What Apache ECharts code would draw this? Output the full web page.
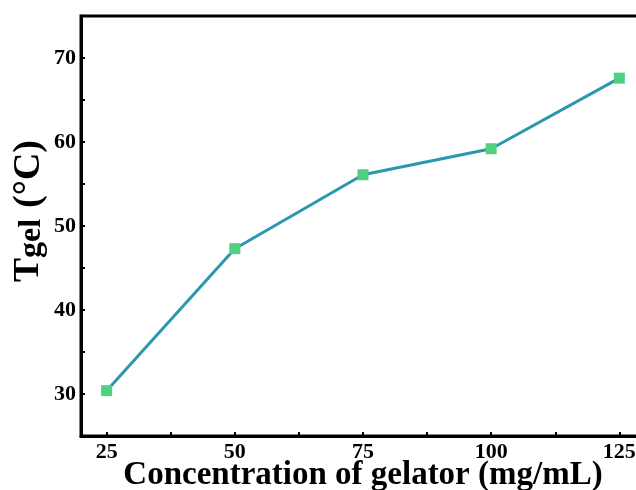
<!DOCTYPE html>
<html>
<head>
<meta charset="utf-8">
<script src="https://cdn.jsdelivr.net/npm/echarts@6/dist/echarts.min.js"></script>
<style>html,body{margin:0;padding:0;background:#fff;overflow:hidden;}#c{width:645px;height:490px;}</style>
</head>
<body>
<div id="c"></div>
<script>
const concentrations = [25, 50, 75, 100, 125];
const tgel = [30.4, 47.3, 56.1, 59.2, 67.6];
const xTickValues = [25, 37.5, 50, 62.5, 75, 87.5, 100, 112.5, 125];
const xLabelValues = [25, 50, 75, 100, 125];
const yTickValues = [25, 30, 35, 40, 45, 50, 55, 60, 65, 70, 75];
const yLabelValues = [30, 40, 50, 60, 70];

const font = '"Liberation Serif", "Times New Roman", serif';
const chart = echarts.init(document.getElementById('c'));
chart.setOption({
  animation: false,
  backgroundColor: '#fff',
  grid: {left: 81, right: 0, top: 16, bottom: 54, outerBoundsMode: 'none', containLabel: false,
         show: true, borderColor: '#000', borderWidth: 3},
  xAxis: {
    type: 'value', min: 20, max: 130,
    name: 'Concentration of gelator (mg/mL)', nameLocation: 'middle', nameGap: 23, nameMoveOverlap: false,
    nameTextStyle: {fontFamily: font, fontWeight: 'bold', fontSize: 33, color: '#000'},
    axisLine: {show: true, lineStyle: {color: '#000', width: 3}},
    axisTick: {show: true, inside: true, length: 4, lineStyle: {color: '#000', width: 2}, customValues: xTickValues},
    axisLabel: {fontFamily: font, fontWeight: 'bold', fontSize: 22, color: '#000', margin: 5, customValues: xLabelValues},
    splitLine: {show: false}
  },
  yAxis: {
    type: 'value', min: 25, max: 75,
    name: '{p| }{t|T}{g|gel}{s| }{c|(°C)}', nameLocation: 'middle', nameGap: 33, nameMoveOverlap: false,
    nameTextStyle: {
      fontFamily: font, fontWeight: 'bold', color: '#000',
      rich: {
        p: {fontFamily: font, fontSize: 30, width: 30},
        t: {fontFamily: font, fontWeight: 'bold', fontSize: 36, color: '#000'},
        g: {fontFamily: font, fontWeight: 'bold', fontSize: 32, color: '#000', verticalAlign: 'bottom'},
        s: {fontFamily: font, fontSize: 30, width: 11},
        c: {fontFamily: font, fontWeight: 'bold', fontSize: 38, color: '#000'}
      }
    },
    axisLine: {show: true, lineStyle: {color: '#000', width: 3}},
    axisTick: {show: true, inside: true, length: 4, lineStyle: {color: '#000', width: 2}, customValues: yTickValues},
    axisLabel: {fontFamily: font, fontWeight: 'bold', fontSize: 22, color: '#000', margin: 5, customValues: yLabelValues},
    splitLine: {show: false}
  },
  series: [{
    type: 'line',
    data: concentrations.map((c, i) => [c, tgel[i]]),
    symbol: 'rect', symbolSize: 11,
    itemStyle: {color: '#4fd17f'},
    lineStyle: {color: '#2b97b0', width: 3}
  }]
});
</script>
</body>
</html>
